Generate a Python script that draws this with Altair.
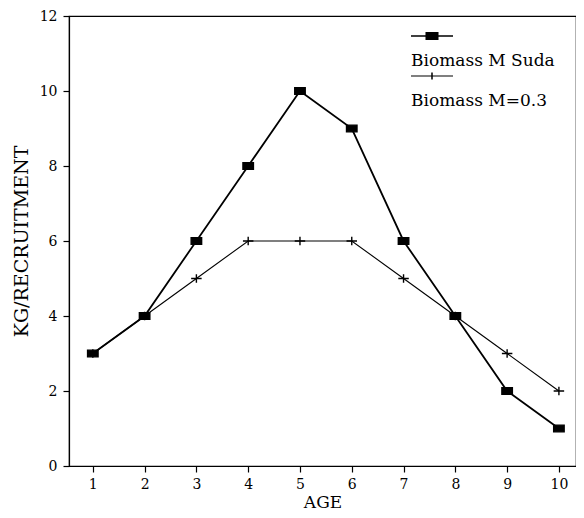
import altair as alt
import pandas as pd

ages = [1, 2, 3, 4, 5, 6, 7, 8, 9, 10]
suda = [3, 4, 6, 8, 10, 9, 6, 4, 2, 1]
m03 = [3, 4, 5, 6, 6, 6, 5, 4, 3, 2]
series_names = ["Biomass M Suda", "Biomass M=0.3"]
x_ticks = [1, 2, 3, 4, 5, 6, 7, 8, 9, 10]
y_ticks = [0, 2, 4, 6, 8, 10, 12]

rows = []
for a, v in zip(ages, suda):
    rows.append({"age": a, "value": v, "series": series_names[0]})
for a, v in zip(ages, m03):
    rows.append({"age": a, "value": v, "series": series_names[1]})
df = pd.DataFrame(rows)

FONT = "DejaVu Serif"

# marker shapes
RECT = "M-1,-0.64L1,-0.64L1,0.64L-1,0.64Z"
PLUS = "M-1,0L1,0M0,-0.8L0,0.8"
# legend shapes (filled outlines only): a line sample with its marker,
# drawn above the label
LEG_RECT = ("M-1,-1.225L1,-1.225L1,-1.155L-1,-1.155Z"
            "M-0.31,-1.38L0.31,-1.38L0.31,-1.0L-0.31,-1.0Z")
LEG_PLUS = ("M-1,-1.215L1,-1.215L1,-1.165L-1,-1.165Z"
            "M-0.036,-1.36L0.036,-1.36L0.036,-1.02L-0.036,-1.02Z")

x = alt.X(
    "age:Q",
    scale=alt.Scale(domain=[0.54, 10.33], nice=False, zero=False),
    axis=alt.Axis(values=x_ticks, format="d", title="AGE",
                  tickSize=6, labelPadding=5, titleY=41,
                  titleBaseline="alphabetic"),
)
y = alt.Y(
    "value:Q",
    scale=alt.Scale(domain=[0, 12], nice=False),
    axis=alt.Axis(values=y_ticks, format="d", title="KG/RECRUITMENT",
                  tickSize=6, labelPadding=6, titlePadding=8,
                  titleFontSize=19),
)

lines = alt.Chart(df).mark_line(color="black").encode(
    x=x, y=y,
    strokeWidth=alt.StrokeWidth(
        "series:N",
        scale=alt.Scale(domain=series_names, range=[1.8, 1.1]),
        legend=None,
    ),
)

pts = alt.Chart(df).mark_point(
    filled=True, fill="black", stroke="black", strokeWidth=1.4, size=110, opacity=1
).encode(
    x=x, y=y,
    shape=alt.Shape(
        "series:N",
        scale=alt.Scale(domain=series_names, range=[RECT, PLUS]),
        legend=None,
    ),
)

# legend-only layer: no rows drawn, entries come from the explicit shape domain
leg = alt.Chart(df).transform_filter("datum.age < 0").mark_point(
    filled=True, fill="black", opacity=1, size=1764
).encode(
    x=x, y=y,
    shape=alt.Shape(
        "series:N",
        scale=alt.Scale(domain=series_names, range=[LEG_RECT, LEG_PLUS]),
        legend=alt.Legend(
            title=None, orient="none", legendX=342, legendY=24,
            padding=0, rowPadding=3, symbolSize=1764, symbolOpacity=1,
            symbolFillColor="black", symbolStrokeWidth=0,
            labelOffset={"expr": "-42"}, labelFont=FONT,
            labelFontSize=17, labelColor="black", labelBaseline="middle",
            labelLimit=0,
        ),
    ),
)

chart = (
    alt.layer(lines, pts, leg)
    .resolve_scale(shape="independent")
    .properties(
        width=507, height=450,
        padding={"left": 61, "top": 8, "right": 0, "bottom": 44},
        autosize="none",
    )
    .configure_view(stroke="black", strokeWidth=1.2)
    .configure_axis(
        grid=False, domainColor="black", domainWidth=1.2, tickColor="black",
        tickWidth=1.2, labelColor="black", titleColor="black",
        labelFont=FONT, titleFont=FONT, labelFontSize=14, titleFontSize=17,
        titleFontWeight="normal",
    )
)

chart.save("out.html", embed_options={"renderer": "svg", "actions": False})
